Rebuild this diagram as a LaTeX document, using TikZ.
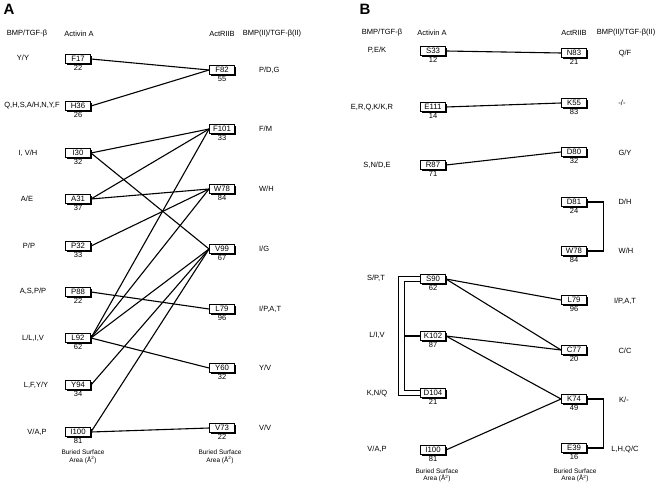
\documentclass[tikz,border=0pt]{standalone}
\usepackage{fontspec}
\setmainfont{Liberation Sans}
\usetikzlibrary{positioning,shadows}

\begin{document}
\begin{tikzpicture}[
  x=1pt, y=-1pt,
  res/.style={draw, fill=white, line width=0.9pt, minimum width=25pt, minimum height=9pt, inner sep=0.5pt, font=\fontsize{7.8}{8}\selectfont, drop shadow={shadow xshift=1.5pt, shadow yshift=-1.5pt, fill=black, opacity=1}},
  area/.style={inner sep=0.5pt, font=\fontsize{7.5}{8}\selectfont},
  lab/.style={inner sep=0pt, font=\fontsize{7.5}{8}\selectfont},
  hd/.style={inner sep=0pt, font=\fontsize{7.5}{8}\selectfont},
  panel/.style={inner sep=0pt, font=\fontsize{15}{16}\selectfont\bfseries},
  note/.style={inner sep=0pt, align=center, font=\fontsize{6.5}{7.4}\selectfont},
  link/.style={line width=1.1pt},
  pair/.style={double, double distance=4.3pt, line width=1.1pt, shorten <=0.45pt, shorten >=0.45pt},
  branch/.style={line width=1.8pt},
  label distance=1pt
]
\useasboundingbox (0,0) rectangle (658,486);

\node[panel] (pA) at (9,9) {A};
\node[hd] (ahB) at (27,34) {BMP/TGF-β};
\node[hd] (ahA) at (79,34) {Activin A};
\node[hd] (ahR) at (222,34) {ActRIIB};
\node[hd] (ahT) at (272,34) {BMP(II)/TGF-β(II)};

\node[res, label={[area]below:22}] (aF17) at (78,59) {F17};
\node[res, label={[area]below:26}] (aH36) at (78,106) {H36};
\node[res, label={[area]below:32}] (aI30) at (78,153) {I30};
\node[res, label={[area]below:37}] (aA31) at (78,199) {A31};
\node[res, label={[area]below:33}] (aP32) at (78,246) {P32};
\node[res, label={[area]below:22}] (aP88) at (78,292) {P88};
\node[res, label={[area]below:62}] (aL92) at (78,338) {L92};
\node[res, label={[area]below:34}] (aY94) at (78,385) {Y94};
\node[res, label={[area]below:81}] (aI100) at (78,432) {I100};

\node[lab] (alF17) at (23,58) {Y/Y};
\node[lab] (alH36) at (32,105) {Q,H,S,A/H,N,Y,F};
\node[lab] (alI30) at (28,153) {I, V/H};
\node[lab] (alA31) at (27,199) {A/E};
\node[lab] (alP32) at (29,246) {P/P};
\node[lab] (alP88) at (33,291) {A,S,P/P};
\node[lab] (alL92) at (33,338) {L/L,I,V};
\node[lab] (alY94) at (36,385) {L,F,Y/Y};
\node[lab] (alI100) at (37,432) {V/A,P};

\node[res, label={[area]below:55}] (aF82) at (222,70) {F82};
\node[res, label={[area]below:33}] (aF101) at (222,129) {F101};
\node[res, label={[area]below:84}] (aW78) at (222,189) {W78};
\node[res, label={[area]below:67}] (aV99) at (222,249) {V99};
\node[res, label={[area]below:96}] (aL79) at (222,309) {L79};
\node[res, label={[area]below:32}] (aY60) at (222,368) {Y60};
\node[res, label={[area]below:22}] (aV73) at (222,428) {V73};

\node[lab, right=24pt of aF82] (arF82) {P/D,G};
\node[lab, right=24pt of aF101] (arF101) {F/M};
\node[lab, right=24pt of aW78] (arW78) {W/H};
\node[lab, right=24pt of aV99] (arV99) {I/G};
\node[lab, right=24pt of aL79] (arL79) {I/P,A,T};
\node[lab, right=24pt of aY60] (arY60) {Y/V};
\node[lab, right=24pt of aV73] (arV73) {V/V};

\node[note] (anL) at (83,457) {Buried Surface\\Area (Å\textsuperscript{2})};
\node[note] (anR) at (220,457) {Buried Surface\\Area (Å\textsuperscript{2})};

\draw[link] (aF17.east) -- (aF82.west);
\draw[link] (aH36.east) -- (aF82.west);
\draw[link] (aI30.east) -- (aF101.west);
\draw[link] (aI30.east) -- (aV99.west);
\draw[link] (aA31.east) -- (aF101.west);
\draw[link] (aA31.east) -- (aW78.west);
\draw[link] (aP32.east) -- (aW78.west);
\draw[link] (aP88.east) -- (aL79.west);
\draw[link] (aL92.east) -- (aF101.west);
\draw[link] (aL92.east) -- (aW78.west);
\draw[link] (aL92.east) -- (aV99.west);
\draw[link] (aL92.east) -- (aY60.west);
\draw[link] (aY94.east) -- (aV99.west);
\draw[link] (aI100.east) -- (aV99.west);
\draw[link] (aI100.east) -- (aV73.west);

\node[panel] (pB) at (365,9) {B};
\node[hd] (bhB) at (382,33) {BMP/TGF-β};
\node[hd] (bhA) at (432,33) {Activin A};
\node[hd] (bhR) at (574,33) {ActRIIB};
\node[hd] (bhT) at (626,33) {BMP(II)/TGF-β(II)};

\node[res, label={[area]below:12}] (bS33) at (433,51) {S33};
\node[res, label={[area]below:14}] (bE111) at (433,107) {E111};
\node[res, label={[area]below:71}] (bR87) at (433,165) {R87};
\node[res, label={[area]below:62}] (bS90) at (433,279) {S90};
\node[res, label={[area]below:87}] (bK102) at (433,336) {K102};
\node[res, label={[area]below:21}] (bD104) at (433,393) {D104};
\node[res, label={[area]below:81}] (bI100) at (433,450) {I100};

\node[lab] (blS33) at (377,50) {P,E/K};
\node[lab] (blE111) at (372,107) {E,R,Q,K/K,R};
\node[lab] (blR87) at (377,165) {S,N/D,E};
\node[lab] (blS90) at (376,278) {S/P,T};
\node[lab] (blK102) at (377,335) {L/I,V};
\node[lab] (blD104) at (377,393) {K,N/Q};
\node[lab] (blI100) at (377,449) {V/A,P};

\node[res, label={[area]below:21}] (bN83) at (574,53) {N83};
\node[res, label={[area]below:83}] (bK55) at (574,103) {K55};
\node[res, label={[area]below:32}] (bD80) at (574,152) {D80};
\node[res, label={[area]below:24}] (bD81) at (574,202) {D81};
\node[res, label={[area]below:84}] (bW78) at (574,251) {W78};
\node[res, label={[area]below:96}] (bL79) at (574,300) {L79};
\node[res, label={[area]below:20}] (bC77) at (574,350) {C77};
\node[res, label={[area]below:49}] (bK74) at (574,399) {K74};
\node[res, label={[area]below:16}] (bE39) at (574,448) {E39};

\node[lab] (brN83) at (625,53) {Q/F};
\node[lab] (brK55) at (622,103) {-/-};
\node[lab] (brD80) at (625,153) {G/Y};
\node[lab] (brD81) at (625,202) {D/H};
\node[lab] (brW78) at (626,251) {W/H};
\node[lab] (brL79) at (625,301) {I/P,A,T};
\node[lab] (brC77) at (625,351) {C/C};
\node[lab] (brK74) at (624,400) {K/-};
\node[lab] (brE39) at (625,449) {L,H,Q/C};

\node[note] (bnL) at (437,475.5) {Buried Surface\\Area (Å\textsuperscript{2})};
\node[note] (bnR) at (575,475.5) {Buried Surface\\Area (Å\textsuperscript{2})};

\draw[link] (bS33.east) -- (bN83.west);
\draw[link] (bE111.east) -- (bK55.west);
\draw[link] (bR87.east) -- (bD80.west);
\draw[link] (bD81.east) -- ++(16.5,0) |- (bW78.east);
\draw[link] (bS90.east) -- (bL79.west);
\draw[link] (bS90.east) -- (bC77.west);
\draw[link] (bK102.east) -- (bC77.west);
\draw[link] (bK102.east) -- (bK74.west);
\draw[link] (bI100.east) -- (bK74.west);
\draw[link] (bK74.east) -- ++(16.5,0) |- (bE39.east);
\draw[pair] (bS90.west) -- ++(-18.5,0) |- (bD104.west);
\draw[branch] (bK102.west) -- ++(-15.5,0);
\end{tikzpicture}
\end{document}
